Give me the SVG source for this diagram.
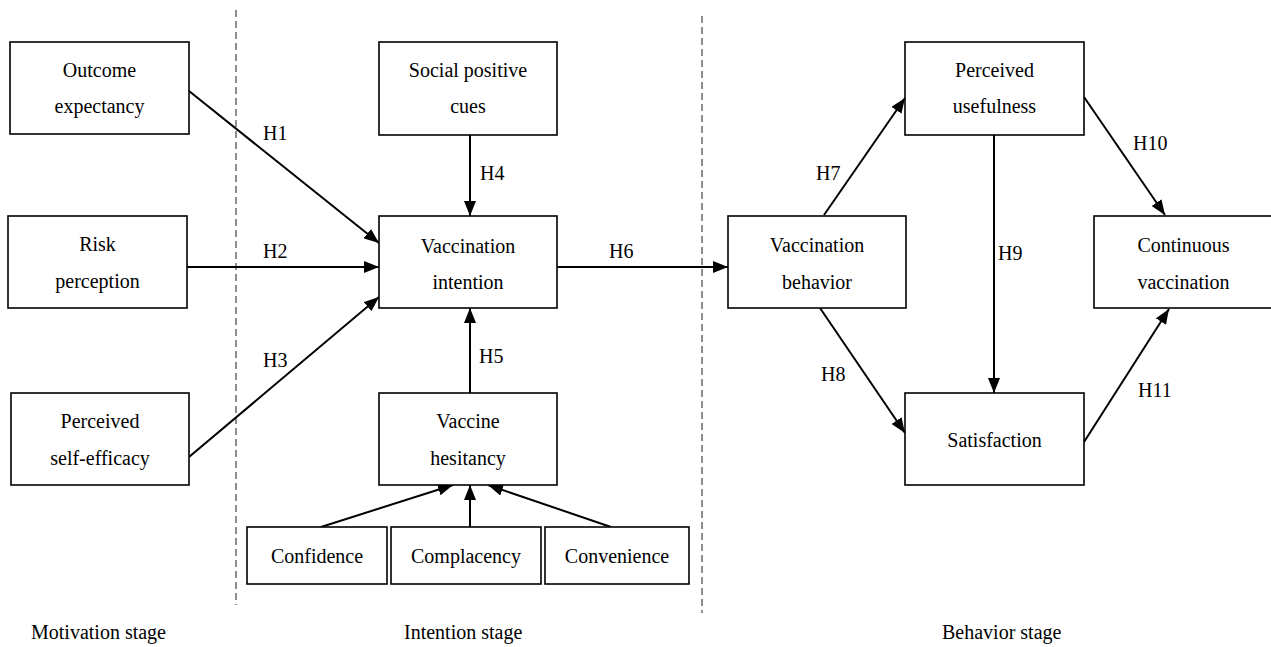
<svg xmlns="http://www.w3.org/2000/svg" width="1271" height="647" viewBox="0 0 1271 647">
<style>
.box{fill:#fff;stroke:#000;stroke-width:1.6}
.t{font-family:"Liberation Serif","Times New Roman",serif;font-size:20px;fill:#000;text-anchor:middle}
.lab{font-family:"Liberation Serif","Times New Roman",serif;font-size:20px;fill:#000}
.c{stroke:#000;stroke-width:2;fill:none;marker-end:url(#ah)}
.d{stroke:#444;stroke-width:1.2;stroke-dasharray:7,4;fill:none}
</style>
<defs>
<marker id="ah" markerUnits="userSpaceOnUse" markerWidth="16" markerHeight="12" refX="15" refY="6" orient="auto">
<path d="M0,0 L15,6 L0,12 z" fill="#000"/>
</marker>
</defs>
<rect width="1271" height="647" fill="#fff"/>
<g id="dividers">
<line class="d" x1="236" y1="10" x2="236" y2="605"/>
<line class="d" x1="702" y1="16" x2="702" y2="613"/>
</g>
<g id="connectors">
<line class="c" x1="189" y1="91" x2="379" y2="243"/>
<line class="c" x1="187" y1="267" x2="379" y2="267"/>
<line class="c" x1="189" y1="457" x2="379" y2="297"/>
<line class="c" x1="470" y1="135" x2="470" y2="216"/>
<line class="c" x1="470" y1="393" x2="470" y2="308"/>
<line class="c" x1="557" y1="267" x2="728" y2="267"/>
<line class="c" x1="321" y1="527" x2="453" y2="485"/>
<line class="c" x1="470" y1="527" x2="470" y2="485"/>
<line class="c" x1="611" y1="527" x2="488" y2="485"/>
<line class="c" x1="824" y1="215" x2="905" y2="98"/>
<line class="c" x1="820" y1="308" x2="905" y2="433"/>
<line class="c" x1="994" y1="135" x2="994" y2="393"/>
<line class="c" x1="1084" y1="97" x2="1165" y2="215"/>
<line class="c" x1="1084" y1="442" x2="1169" y2="309"/>
<text class="lab" x="263" y="140">H1</text>
<text class="lab" x="263" y="258">H2</text>
<text class="lab" x="263" y="367">H3</text>
<text class="lab" x="480" y="180">H4</text>
<text class="lab" x="479" y="363">H5</text>
<text class="lab" x="609" y="258">H6</text>
<text class="lab" x="816" y="180">H7</text>
<text class="lab" x="821" y="381">H8</text>
<text class="lab" x="998" y="260">H9</text>
<text class="lab" x="1133" y="150">H10</text>
<text class="lab" x="1138" y="397">H11</text>
</g>
<g id="outcome-expectancy">
<rect class="box" x="10" y="42" width="179" height="92"/>
<text class="t" x="99.5" y="77">Outcome</text>
<text class="t" x="99.5" y="113">expectancy</text>
</g>
<g id="risk-perception">
<rect class="box" x="8" y="216" width="179" height="92"/>
<text class="t" x="97.5" y="251">Risk</text>
<text class="t" x="97.5" y="288">perception</text>
</g>
<g id="perceived-self-efficacy">
<rect class="box" x="11" y="393" width="178" height="92"/>
<text class="t" x="100" y="428">Perceived</text>
<text class="t" x="100" y="465">self-efficacy</text>
</g>
<g id="social-positive-cues">
<rect class="box" x="379" y="42" width="178" height="93"/>
<text class="t" x="468" y="77">Social positive</text>
<text class="t" x="468" y="113">cues</text>
</g>
<g id="vaccination-intention">
<rect class="box" x="379" y="216" width="178" height="92"/>
<text class="t" x="468" y="253">Vaccination</text>
<text class="t" x="468" y="289">intention</text>
</g>
<g id="vaccine-hesitancy">
<rect class="box" x="379" y="393" width="178" height="92"/>
<text class="t" x="468" y="428">Vaccine</text>
<text class="t" x="468" y="465">hesitancy</text>
</g>
<g id="confidence">
<rect class="box" x="247" y="527" width="140" height="57"/>
<text class="t" x="317" y="563">Confidence</text>
</g>
<g id="complacency">
<rect class="box" x="391" y="527" width="150" height="57"/>
<text class="t" x="466" y="563">Complacency</text>
</g>
<g id="convenience">
<rect class="box" x="545" y="527" width="144" height="57"/>
<text class="t" x="617" y="563">Convenience</text>
</g>
<g id="vaccination-behavior">
<rect class="box" x="728" y="216" width="178" height="92"/>
<text class="t" x="817" y="252">Vaccination</text>
<text class="t" x="817" y="289">behavior</text>
</g>
<g id="perceived-usefulness">
<rect class="box" x="905" y="42" width="179" height="93"/>
<text class="t" x="994.5" y="77">Perceived</text>
<text class="t" x="994.5" y="113">usefulness</text>
</g>
<g id="satisfaction">
<rect class="box" x="905" y="393" width="179" height="92"/>
<text class="t" x="994.5" y="447">Satisfaction</text>
</g>
<g id="continuous-vaccination">
<rect class="box" x="1094" y="216" width="179" height="92"/>
<text class="t" x="1183.5" y="252">Continuous</text>
<text class="t" x="1183.5" y="289">vaccination</text>
</g>
<g id="stages">
<text class="lab" x="31" y="639">Motivation stage</text>
<text class="lab" x="404" y="639">Intention stage</text>
<text class="lab" x="942" y="639">Behavior stage</text>
</g>
</svg>
